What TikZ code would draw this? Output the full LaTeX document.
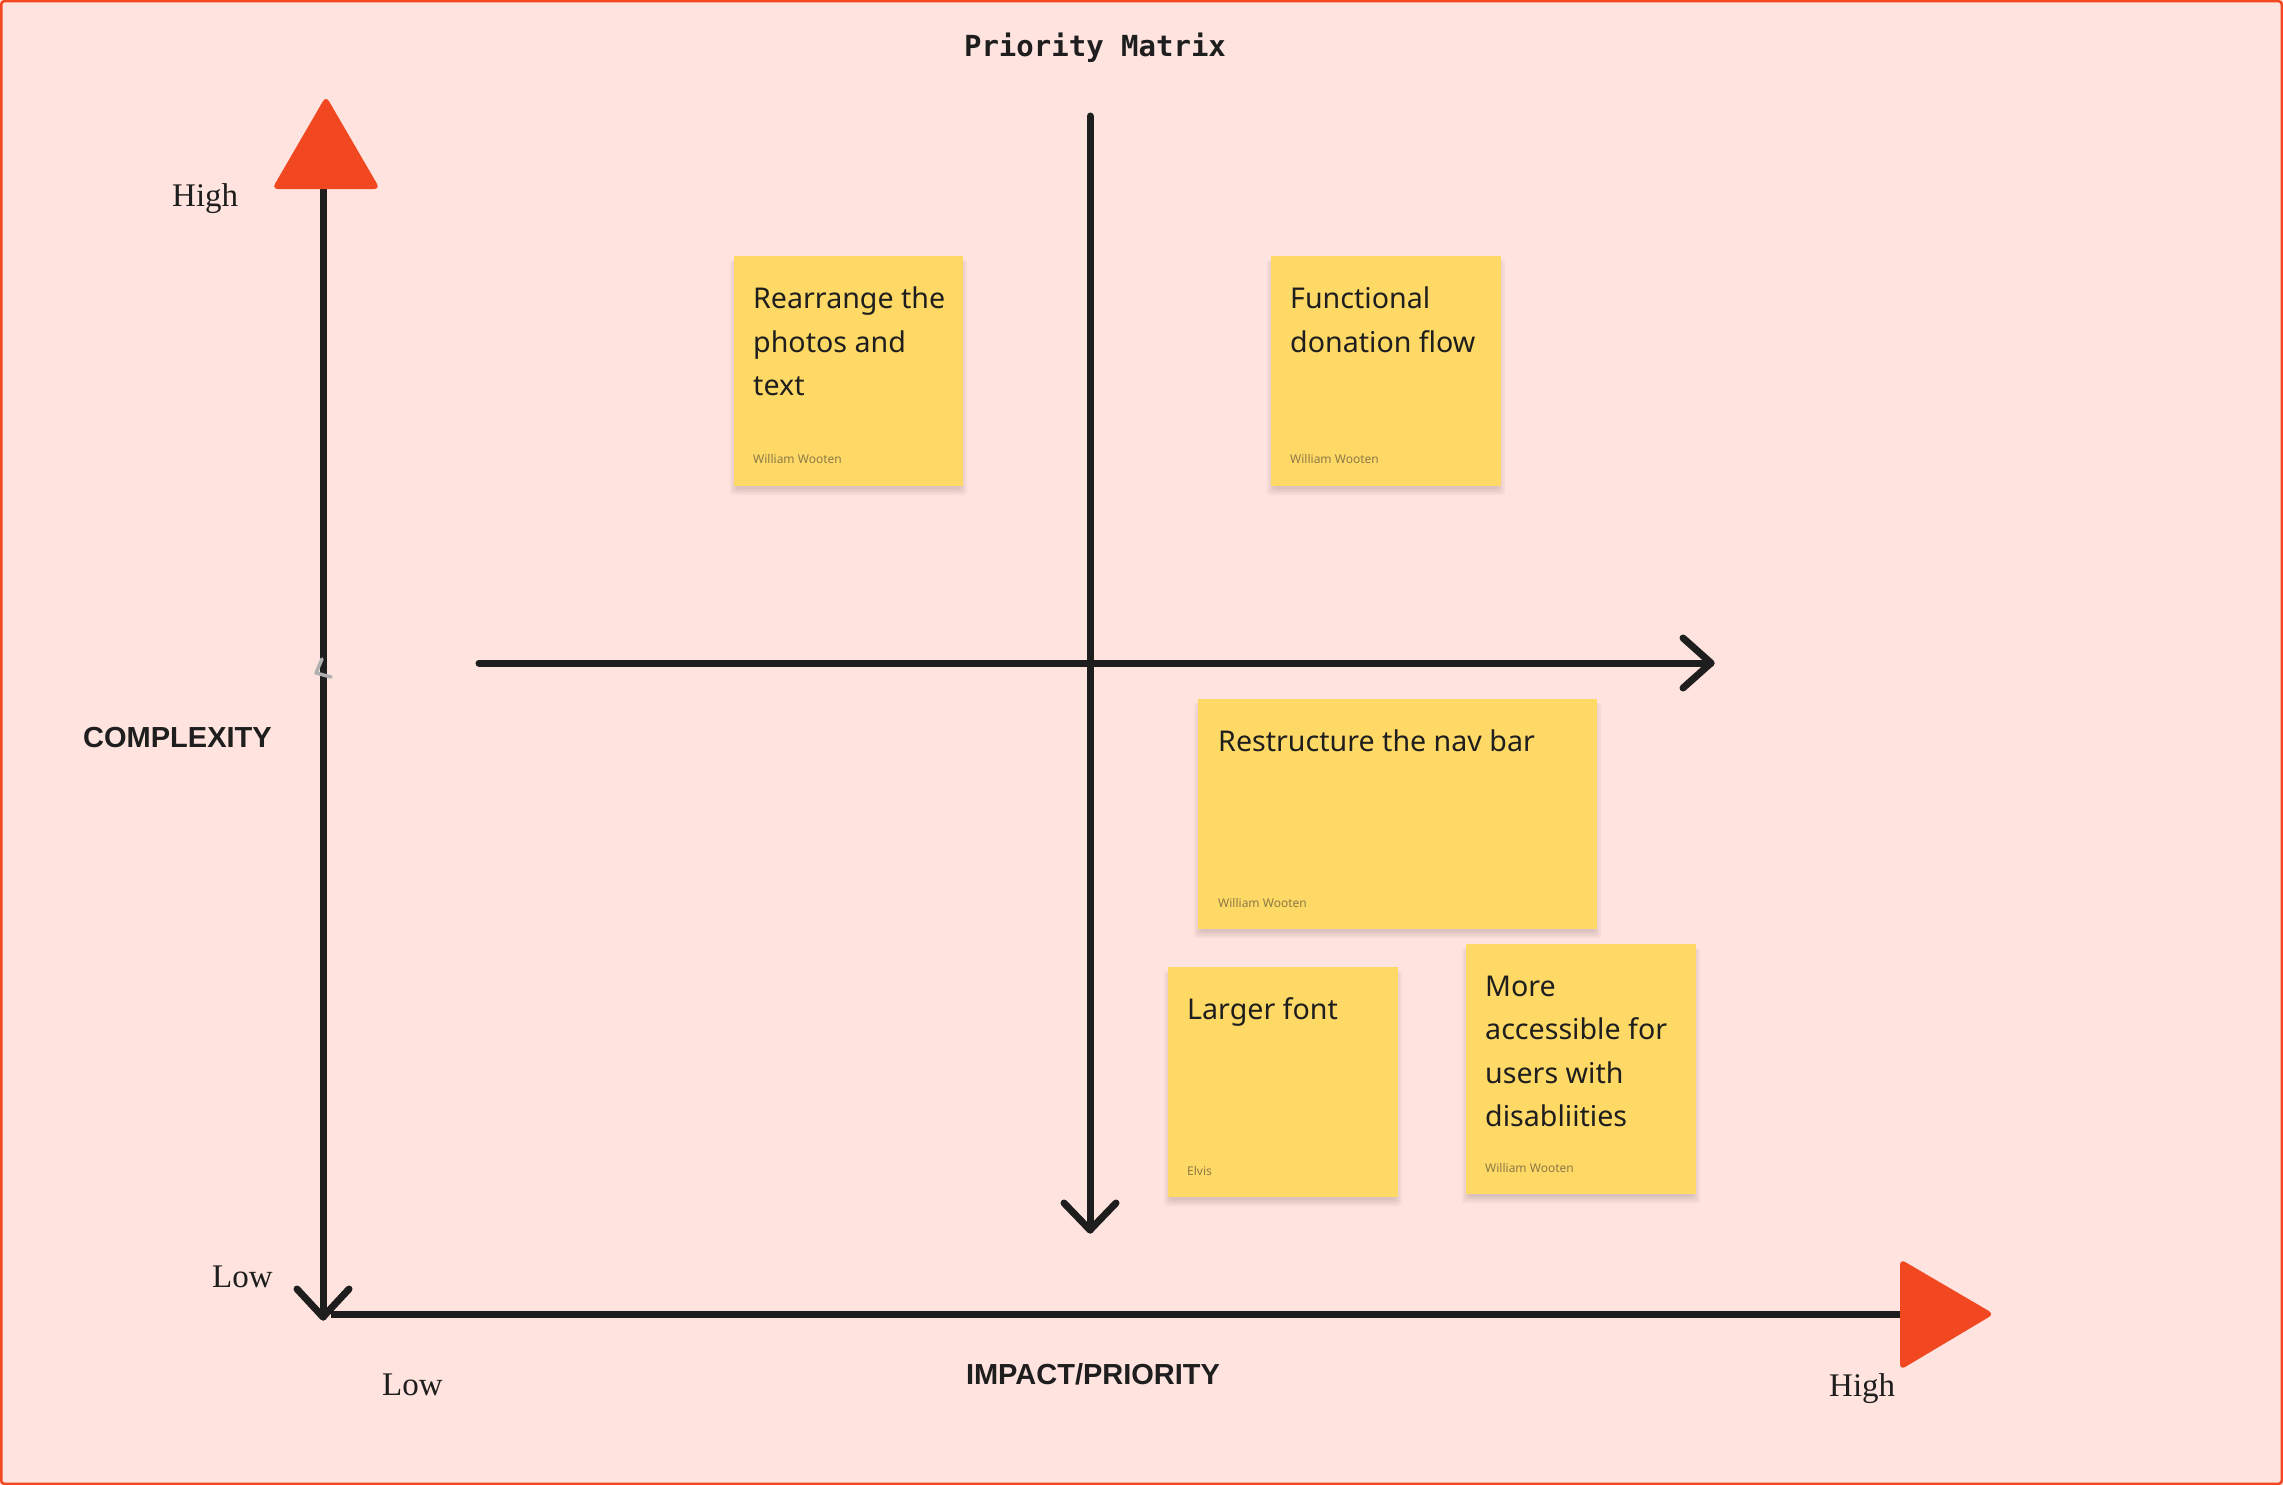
\documentclass[tikz,border=0pt]{standalone}
\usepackage{fontspec}
\setmainfont{Liberation Serif}
\setsansfont{Noto Sans}
\setmonofont{DejaVu Sans Mono}
\newfontfamily\lblsans{Liberation Sans}
\usetikzlibrary{calc}
\definecolor{bgc}{HTML}{FFE3DE}
\definecolor{redc}{HTML}{F24822}
\definecolor{darkc}{HTML}{1E1E1E}
\definecolor{notec}{HTML}{FFD966}
\definecolor{authc}{RGB}{140,122,72}
\definecolor{markc}{HTML}{B0B0B0}
\tikzset{
  axisline/.style={draw=darkc,line width=7pt,line cap=round,line join=round},
  redtri/.style={fill=redc,rounded corners=6pt},
  note/.style={fill=notec,draw=none,inner sep=0pt,anchor=north west},
  notetext/.style={anchor=base west,inner sep=0pt,text=darkc,
    font=\sffamily\fontsize{28.6}{35}\selectfont},
  author/.style={anchor=base west,inner sep=0pt,text=authc,
    font=\sffamily\fontsize{12}{14}\selectfont},
  seriflbl/.style={anchor=base west,inner sep=0pt,text=darkc,
    font=\rmfamily\fontsize{33}{40}\selectfont},
  boldlbl/.style={anchor=base west,inner sep=0pt,text=darkc,
    font=\lblsans\bfseries\fontsize{29}{35}\selectfont},
  shadowlayer/.style={fill=black,opacity=0.035,rounded corners=3pt},
}
\newcommand{\noteshadow}[4]{% x1,y1,x2,y2
  \foreach \s in {1,3,5,7}{
    \fill[shadowlayer] (#1+3-\s,#2+4) rectangle (#3-3+\s,#4+2+\s);
  }
}
\begin{document}
\begin{tikzpicture}[x=1pt,y=-1pt]
\useasboundingbox (0,0) rectangle (2283,1485);
\fill[bgc] (0,0) rectangle (2283,1485);
\draw[redc,line width=2.5pt,rounded corners=3pt] (1.25,1.25) rectangle (2281.75,1483.75);

% title
\node[anchor=base,inner sep=0pt,text=darkc,font=\ttfamily\bfseries\fontsize{29}{35}\selectfont] (title) at (1095,57) {Priority Matrix};

% left vertical axis
\coordinate (vtop) at (323,188);
\coordinate (vbot) at (323,1317);
\coordinate (vbl) at (297,1289);
\coordinate (vbr) at (349,1289);
\draw[axisline] (vtop) -- (vbot);
\draw[axisline] (vbl) -- (vbot) -- (vbr);
\fill[redtri] (326,96) -- (380,189) -- (272,189) -- cycle;

% bottom horizontal axis
\coordinate (hleft) at (331,1314);
\coordinate (hright) at (1902,1314);
\draw[axisline,line cap=butt] (hleft) -- (hright);
\fill[redtri] (1900,1259) -- (1994,1314) -- (1900,1370) -- cycle;

% inner vertical line
\coordinate (ivtop) at (1090,116);
\coordinate (ivbot) at (1090,1230);
\coordinate (ivl) at (1064,1203);
\coordinate (ivr) at (1116,1203);
\draw[axisline] (ivtop) -- (ivbot);
\draw[axisline] (ivl) -- (ivbot) -- (ivr);

% inner horizontal line
\coordinate (ihleft) at (479,663);
\coordinate (ihright) at (1711,663);
\coordinate (iht) at (1683,638);
\coordinate (ihb) at (1683,688);
\draw[axisline] (ihleft) -- (ihright);
\draw[axisline] (iht) -- (ihright) -- (ihb);

% small gray mark
\coordinate (mk1) at (322,659);
\coordinate (mk2) at (316,673);
\coordinate (mk3) at (331,677);
\draw[markc,line width=3.5pt,line cap=round,line join=round] (mk1) -- (mk2) -- (mk3);

% axis labels
\node[seriflbl] (highy) at (172,206) {High};
\node[seriflbl] (lowy) at (212,1287) {Low};
\node[seriflbl] (lowx) at (382,1395) {Low};
\node[seriflbl] (highx) at (1829,1396) {High};
\node[boldlbl] (cplx) at (83,747) {COMPLEXITY};
\node[boldlbl,anchor=base] (impact) at (1093,1384) {IMPACT/PRIORITY};

% notes
\noteshadow{734}{256}{963}{486}
\node[note,minimum width=229pt,minimum height=230pt] (n1) at (734,256) {};
\node[notetext] (n1a) at (753,308) {Rearrange the};
\node[notetext] (n1b) at (753,352) {photos and};
\node[notetext] (n1c) at (753,395) {text};
\node[author] (n1w) at (753,463) {William Wooten};

\noteshadow{1271}{256}{1501}{486}
\node[note,minimum width=230pt,minimum height=230pt] (n2) at (1271,256) {};
\node[notetext] (n2a) at (1290,308) {Functional};
\node[notetext] (n2b) at (1290,352) {donation flow};
\node[author] (n2w) at (1290,463) {William Wooten};

\noteshadow{1198}{699}{1597}{929}
\node[note,minimum width=399pt,minimum height=230pt] (n3) at (1198,699) {};
\node[notetext] (n3a) at (1218,751) {Restructure the nav bar};
\node[author] (n3w) at (1218,907) {William Wooten};

\noteshadow{1168}{967}{1398}{1197}
\node[note,minimum width=230pt,minimum height=230pt] (n4) at (1168,967) {};
\node[notetext] (n4a) at (1187,1019) {Larger font};
\node[author] (n4w) at (1187,1175) {Elvis};

\noteshadow{1466}{944}{1696}{1194}
\node[note,minimum width=230pt,minimum height=250pt] (n5) at (1466,944) {};
\node[notetext] (n5a) at (1485,996) {More};
\node[notetext] (n5b) at (1485,1039) {accessible for};
\node[notetext] (n5c) at (1485,1083) {users with};
\node[notetext] (n5d) at (1485,1126) {disabliities};
\node[author] (n5w) at (1485,1172) {William Wooten};
\end{tikzpicture}
\end{document}
